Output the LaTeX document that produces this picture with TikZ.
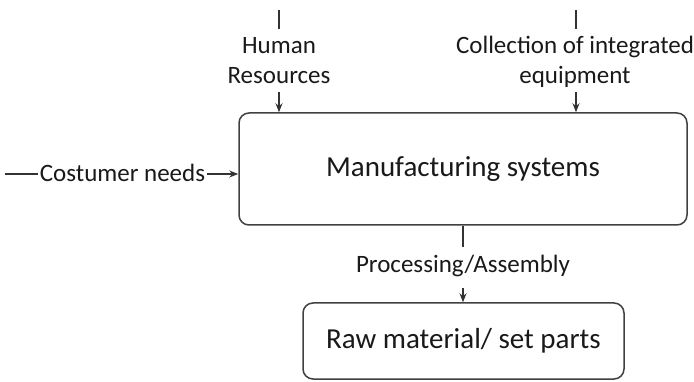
\documentclass[tikz,border=0pt]{standalone}
\usepackage{fontspec}
\setmainfont{Carlito}
\usetikzlibrary{arrows.meta}
\begin{document}
\begin{tikzpicture}[x=1pt,y=-1pt,
  block/.style={draw=black!75, line width=1.5pt, rounded corners=10pt,
    inner sep=0pt, font=\fontsize{29}{34}\selectfont, text=black!90},
  flow/.style={draw=black!80, line width=1.2pt},
  tip/.style={flow, -{Stealth[length=9pt,width=7pt]}},
  lbl/.style={inner xsep=2pt, font=\fontsize{25}{30}\selectfont,
    align=center, text=black!90, anchor=base}]
  \useasboundingbox (0,0) rectangle (694,382);
  % process boxes
  \node[block, minimum width=448pt, minimum height=112pt] (ms) at (463,169)
    {Manufacturing systems};
  \node[block, minimum width=321pt, minimum height=76pt] (rm) at (463.5,341)
    {Raw material/ set parts};
  % mechanisms entering from above (base = baseline of the last line)
  \coordinate (hrTop) at (279,10);
  \node[lbl, text height=47pt, text depth=0pt, inner ysep=8pt] (hr) at (279,84)
    {Human\\Resources};
  \draw[flow] (hrTop) -- (hr.north);
  \draw[tip] (hr.south) -- (hr.south |- ms.north);
  \coordinate (ceTop) at (576,10);
  \node[lbl, text height=47pt, text depth=0pt, inner ysep=8pt] (ce) at (575,84)
    {Collection of integrated\\equipment};
  \draw[flow] (ceTop) -- (ceTop |- ce.north);
  \draw[tip] (ceTop |- ce.south) -- (ceTop |- ms.north);
  % input from the left
  \coordinate (cnStart) at (5,174);
  \node[lbl, text height=16pt, text depth=0pt, inner ysep=0pt] (cn) at (122.5,182)
    {Costumer needs};
  \draw[flow] (cnStart) -- (cn.west |- cnStart);
  \draw[tip] (cn.east |- cnStart) -- (ms.west |- cnStart);
  % output towards the parts
  \node[lbl, text height=17pt, text depth=6pt, inner ysep=9pt] (pa) at (463,273)
    {Processing/Assembly};
  \draw[flow] (ms.south -| pa) -- (pa.north);
  \draw[tip] (pa.south) -- (rm.north -| pa);
\end{tikzpicture}
\end{document}
